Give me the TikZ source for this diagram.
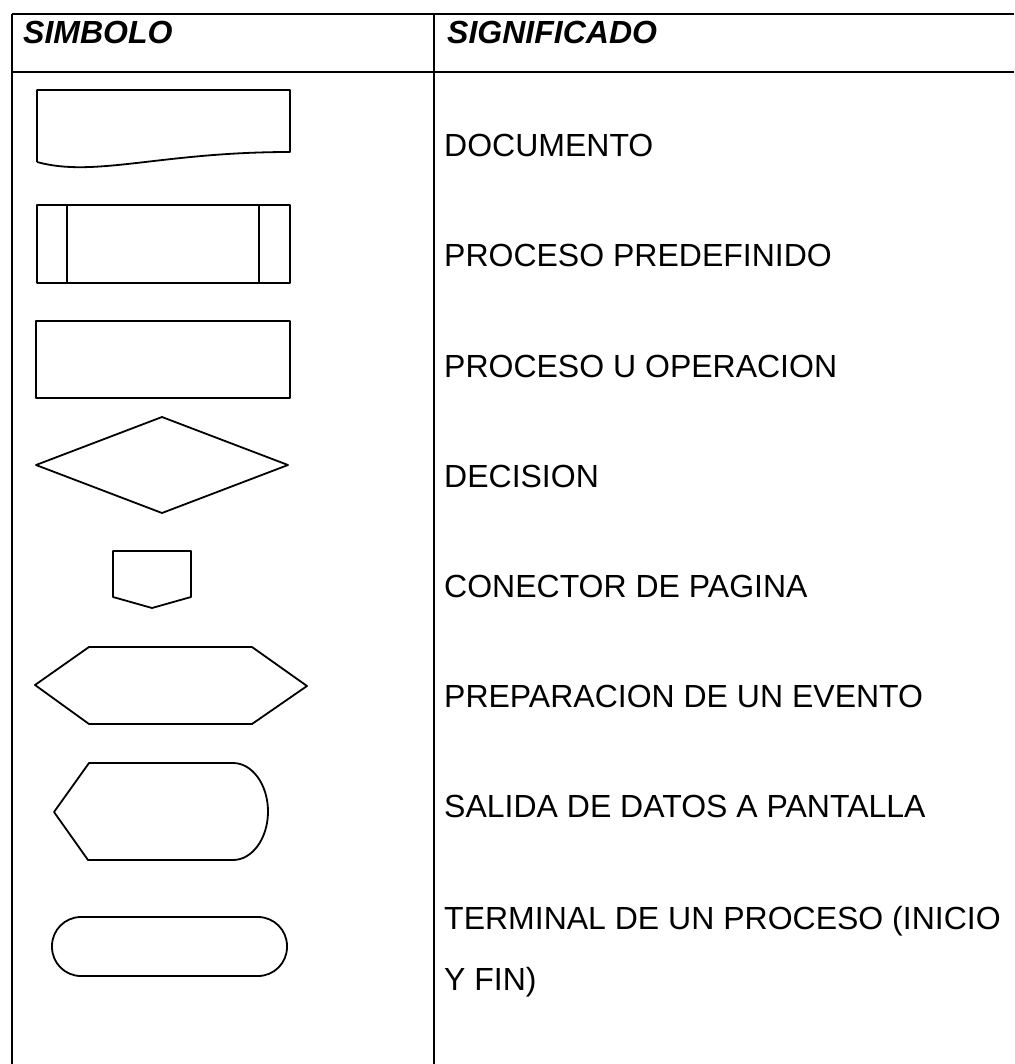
\documentclass[tikz,border=0pt]{standalone}
\usepackage{fontspec}
\setmainfont{Liberation Sans}
\begin{document}
\begin{tikzpicture}[x=1pt,y=-1pt,
  gridline/.style={draw=black,line width=1.3pt},
  sym/.style={draw=black,line width=1.8pt,line join=round},
  label/.style={anchor=base west,inner sep=0pt,font=\fontsize{32}{38}\selectfont},
  head/.style={anchor=base west,inner sep=0pt,font=\fontsize{32}{38}\selectfont\bfseries\itshape}]
\useasboundingbox (0,0) rectangle (1014,1064);
% table frame
\coordinate (tl) at (12,14);
\coordinate (tr) at (1014,14);
\coordinate (hl) at (12,72);
\coordinate (hr) at (1014,72);
\coordinate (bl) at (12,1064);
\coordinate (dt) at (434,14);
\coordinate (db) at (434,1064);
\draw[gridline] (tl) -- (tr);
\draw[gridline] (hl) -- (hr);
\draw[gridline] (tl) -- (bl);
\draw[gridline] (dt) -- (db);
% headers
\node[head] (h1) at (23,44) {SIMBOLO};
\node[head] (h2) at (447,44) {SIGNIFICADO};
% document
\draw[sym] (37,162) -- (37,90) -- (290,90) -- (290,152)
  .. controls (160,152) and (95,178) .. (37,162);
% predefined process
\draw[sym] (37,205) rectangle (290,283);
\draw[sym] (67,205) -- (67,283);
\draw[sym] (259,205) -- (259,283);
% process
\draw[sym] (36,321) rectangle (290,398);
% decision
\draw[sym] (36,465) -- (162,417) -- (288,465) -- (162,513) -- cycle;
% page connector
\draw[sym] (113,551) -- (191,551) -- (191,597) -- (152,608) -- (113,597) -- cycle;
% preparation
\draw[sym] (35,685) -- (89,647) -- (252,647) -- (307,686) -- (252,724) -- (89,724) -- cycle;
% display
\draw[sym] (54,812) -- (89,763) -- (233,763)
  arc[start angle=-90,end angle=90,x radius=35,y radius=48.5]
  -- (88,860) -- cycle;
% terminal
\draw[sym,rounded corners=29pt] (52,917) rectangle (287,976);
% labels
\node[label] (t1) at (444,157) {DOCUMENTO};
\node[label] (t2) at (444,267) {PROCESO PREDEFINIDO};
\node[label] (t3) at (444,377) {PROCESO U OPERACION};
\node[label] (t4) at (444,487) {DECISION};
\node[label] (t5) at (444,597) {CONECTOR DE PAGINA};
\node[label] (t6) at (444,707) {PREPARACION DE UN EVENTO};
\node[label] (t7) at (444,817) {SALIDA DE DATOS A PANTALLA};
\node[label] (t8) at (444,929) {TERMINAL DE UN PROCESO (INICIO};
\node[label] (t9) at (444,990) {Y FIN)};
\end{tikzpicture}
\end{document}
